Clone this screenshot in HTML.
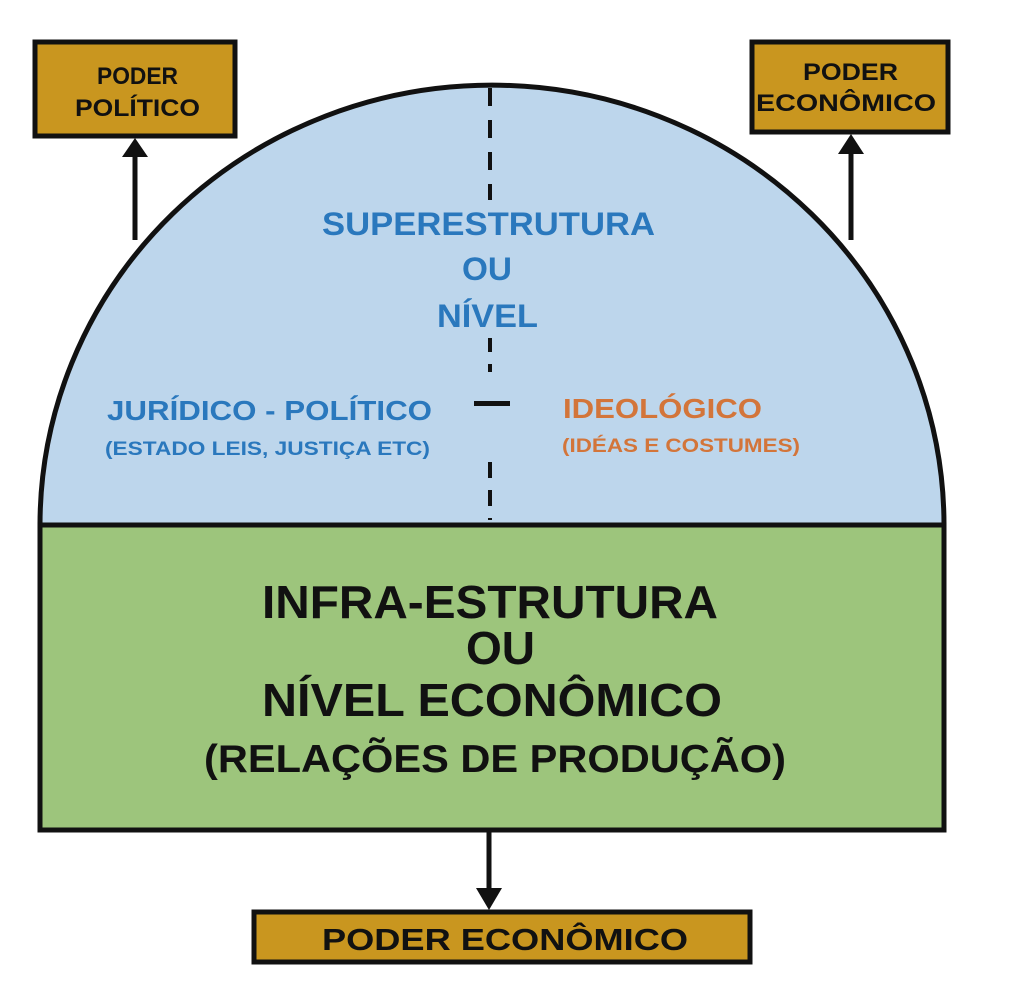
<!DOCTYPE html>
<html><head><meta charset="utf-8"><style>
body{margin:0;background:#fff;width:1024px;height:1008px;overflow:hidden}
svg{display:block}
text{font-family:"Liberation Sans",sans-serif;font-weight:bold}
</style></head><body>
<svg width="1024" height="1008" viewBox="0 0 1024 1008">
<path d="M40 525 A452 440 0 0 1 944 525 Z" fill="#bdd6ec" stroke="#111" stroke-width="5"/>
<rect x="40" y="525" width="904" height="305" fill="#9dc57c" stroke="#111" stroke-width="5"/>
<line x1="490" y1="88" x2="490" y2="200" stroke="#111" stroke-width="4" stroke-dasharray="18 14"/>
<line x1="490" y1="338" x2="490" y2="372" stroke="#111" stroke-width="4" stroke-dasharray="14 12"/>
<line x1="490" y1="462" x2="490" y2="520" stroke="#111" stroke-width="4" stroke-dasharray="16 12"/>
<rect x="474" y="401" width="36" height="5" fill="#111"/>
<rect x="35" y="42" width="200" height="94" fill="#c9961f" stroke="#111" stroke-width="5"/>
<rect x="752" y="42" width="196" height="90" fill="#c9961f" stroke="#111" stroke-width="5"/>
<rect x="254" y="912" width="496" height="50" fill="#c9961f" stroke="#111" stroke-width="5"/>
<line x1="135" y1="240" x2="135" y2="150" stroke="#111" stroke-width="5"/>
<polygon points="122,157 148,157 135,138" fill="#111"/>
<line x1="851" y1="240" x2="851" y2="148" stroke="#111" stroke-width="5"/>
<polygon points="838,154 864,154 851,134" fill="#111"/>
<line x1="489" y1="830" x2="489" y2="892" stroke="#111" stroke-width="5"/>
<polygon points="476,888 502,888 489,910" fill="#111"/>
<g fill="#111" lengthAdjust="spacingAndGlyphs">
<text x="97" y="84" font-size="24" textLength="81" lengthAdjust="spacingAndGlyphs">PODER</text>
<text x="75" y="116" font-size="24" textLength="125" lengthAdjust="spacingAndGlyphs">POLÍTICO</text>
<text x="803" y="80" font-size="24" textLength="95" lengthAdjust="spacingAndGlyphs">PODER</text>
<text x="756" y="111" font-size="24" textLength="180" lengthAdjust="spacingAndGlyphs">ECONÔMICO</text>
<text x="322" y="950" font-size="31" textLength="366" lengthAdjust="spacingAndGlyphs">PODER ECONÔMICO</text>
<text x="262" y="618" font-size="46" textLength="456" lengthAdjust="spacingAndGlyphs">INFRA-ESTRUTURA</text>
<text x="466" y="664" font-size="46" textLength="69" lengthAdjust="spacingAndGlyphs">OU</text>
<text x="262" y="716" font-size="46" textLength="460" lengthAdjust="spacingAndGlyphs">NÍVEL ECONÔMICO</text>
<text x="204" y="772" font-size="39" textLength="582" lengthAdjust="spacingAndGlyphs">(RELAÇÕES DE PRODUÇÃO)</text>
</g>
<g fill="#2a78bd">
<text x="322" y="235" font-size="32" textLength="333" lengthAdjust="spacingAndGlyphs">SUPERESTRUTURA</text>
<text x="462" y="280" font-size="32" textLength="50" lengthAdjust="spacingAndGlyphs">OU</text>
<text x="437" y="327" font-size="32" textLength="101" lengthAdjust="spacingAndGlyphs">NÍVEL</text>
<text x="107" y="420" font-size="28" textLength="325" lengthAdjust="spacingAndGlyphs">JURÍDICO - POLÍTICO</text>
<text x="105" y="455" font-size="19" textLength="325" lengthAdjust="spacingAndGlyphs">(ESTADO LEIS, JUSTIÇA ETC)</text>
</g>
<g fill="#d3753a">
<text x="563" y="418" font-size="28" textLength="199" lengthAdjust="spacingAndGlyphs">IDEOLÓGICO</text>
<text x="562" y="452" font-size="19" textLength="238" lengthAdjust="spacingAndGlyphs">(IDÉAS E COSTUMES)</text>
</g>
</svg>
</body></html>
